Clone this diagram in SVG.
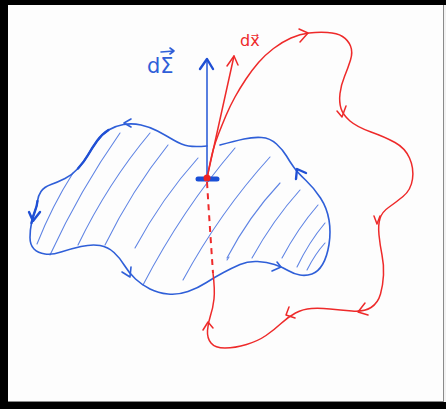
<svg xmlns="http://www.w3.org/2000/svg" width="446" height="409" viewBox="0 0 446 409">
  <defs>
    <style>
      .blue { fill: none; stroke: #2f5fd8; stroke-width: 1.6; stroke-linecap: round; stroke-linejoin: round; }
      .bluethick { fill: none; stroke: #1f4fd4; stroke-width: 2.4; stroke-linecap: round; stroke-linejoin: round; }
      .hatch { fill: none; stroke: #5f84e4; stroke-width: 1.1; stroke-linecap: round; }
      .red { fill: none; stroke: #ee2a2a; stroke-width: 1.5; stroke-linecap: round; stroke-linejoin: round; }
      .reddash { fill: none; stroke: #ee2a2a; stroke-width: 2; stroke-dasharray: 6 5; }
      .lblb { font-family: "DejaVu Sans", sans-serif; font-size: 21px; fill: #2f5fd8; }
      .lblr { font-family: "DejaVu Sans", sans-serif; font-size: 16px; fill: #ee2a2a; }
    </style>
  </defs>

  <!-- frame -->
  <rect width="446" height="409" fill="#000"/>
  <rect x="8" y="5" width="435" height="397" fill="#fdfdfd"/>
  <rect x="444" y="5" width="2" height="397" fill="#f2f2f2"/>
  <line x1="443.5" y1="5" x2="443.5" y2="402" stroke="#8a8a8a" stroke-width="1"/>
  <line x1="8" y1="401.5" x2="444" y2="401.5" stroke="#8a8a8a" stroke-width="1"/>

  <!-- surface Sigma -->
  <g id="surface">
    <g id="hatching">
      <path class="hatch" d="M37 244 Q52 206 73 173"/>
      <path class="hatch" d="M50 255 Q80 190 120 133"/>
      <path class="hatch" d="M78 245 Q108 183 150 133"/>
      <path class="hatch" d="M105 245 Q132 190 168 145"/>
      <path class="hatch" d="M135 248 Q162 198 198 158"/>
      <path class="hatch" d="M143 285 Q182 210 235 148"/>
      <path class="hatch" d="M183 280 Q220 212 270 157"/>
      <path class="hatch" d="M227 258 Q249 216 280 183"/>
      <path class="hatch" d="M252 258 Q273 220 300 190"/>
      <path class="hatch" d="M282 258 Q298 228 318 205"/>
      <path class="hatch" d="M297 267 Q309 242 325 223"/>
      <path class="hatch" d="M307 270 Q315 254 325 243"/>
      <path class="hatch" d="M227 260 l2 -3"/>
    </g>
    <path id="boundary" class="blue" d="M207 146 Q195 147 188.5 146 T173.5 140 T157.5 131 T141 125 T123.5 124.5 T108.5 130 T97 141 T88 155 T78 168.5 T65 178.5 T51 184.5 T41 191.5 T37.5 201 T35 211 T31.5 223 T30 237.5 T34 249 T45 254 T61 252 T81 246.5 T100 245.5 T114 252.5 T124.5 265.5 T135.5 279 T150 289 T168 294 T188 291.5 T206.5 282.5 T223.5 272.5 T240 264.5 T257.5 261.5 T274.5 264.5 T288 270.5 T300 275 T312 274 T322.5 264.5 T329 244.5 T329 220 T320.5 198 T306 180.5 T294 167.5 T286.5 156 T276.5 144 T261.5 137.5 T244 139 T220 145"/>
    <path class="bluethick" d="M108.5 130 Q102 134 97 141 T88 155 T78 168.5"/>
    <path class="bluethick" d="M37.5 201 Q37 206 35 211 T31.5 223"/>
    <g id="boundary-arrows" class="blue">
      <path d="M131 119 L124 123 L131 127"/>
      <path class="bluethick" d="M29 212 L33 221 L40 212"/>
      <path d="M122 272 L130 277 L131 267"/>
      <path d="M277 262 L281 267 L272 271"/>
      <path class="bluethick" d="M306 173 L297 169 L296 179"/>
    </g>
  </g>

  <!-- closed curve x -->
  <g id="curve">
    <path class="reddash" d="M207 182 Q210 230 213 273"/>
    <path class="red" d="M207 178 Q211 158 213 150.5 T218.5 134 T226 115.5 T235 97 T246 79 T258.5 62.5 T273.5 48.5 T291 38 T309 33 T327.5 32.5 T342.5 36.5 T350.5 46 T350.5 60 T344.5 76.5 T340 93.5 T341 108.5 T350 121 T371 132 T395 142.5 T409.5 158 T412.5 179 T403 196.5 T388.5 207.5 T380 218.5 T379 235 T382 255 T383.5 275 T380.5 294 T371 307.5 T352 311 T330 309 T311.5 308.5 T295.5 313 T281 323.5 T266 335.5 T246.5 344.5 T225 348 T211 343 T207.5 330.5 T210.5 315.5 T214 299 T213 273"/>
    <g id="curve-arrows" class="red">
      <path d="M299 29 L308 33 L300 42"/>
      <path d="M337 111 L342 117 L346 106"/>
      <path d="M374 216 L377 224 L380 216"/>
      <path d="M365 303 L358 312 L368 315"/>
      <path d="M289 307 L286 315 L295 318"/>
      <path d="M203 330 L208 322 L213 328"/>
    </g>
  </g>

  <!-- vectors at point -->
  <g id="dSigma-vector">
    <line class="blue" x1="207" y1="178" x2="207" y2="59" stroke-width="1.3"/>
    <path class="bluethick" d="M200 69 L207 59 L213 69" stroke-width="3"/>
    <text class="lblb" x="147" y="73">dΣ</text>
    <path class="blue" d="M161 52 L174 51 M170 48 L174 51 L170 54" stroke-width="1.4"/>
  </g>
  <g id="dx-vector">
    <line class="red" x1="207" y1="178" x2="234" y2="56"/>
    <path class="red" d="M227 66 L234 56 L238 65" stroke-width="1.8"/>
    <text class="lblr" x="240" y="46">dx⃗</text>
  </g>
  <g id="point">
    <line x1="198" y1="179" x2="217" y2="179" stroke="#1a4fd6" stroke-width="5" stroke-linecap="round"/>
    <circle cx="207" cy="178" r="3.5" fill="#ee2222"/>
  </g>
</svg>
